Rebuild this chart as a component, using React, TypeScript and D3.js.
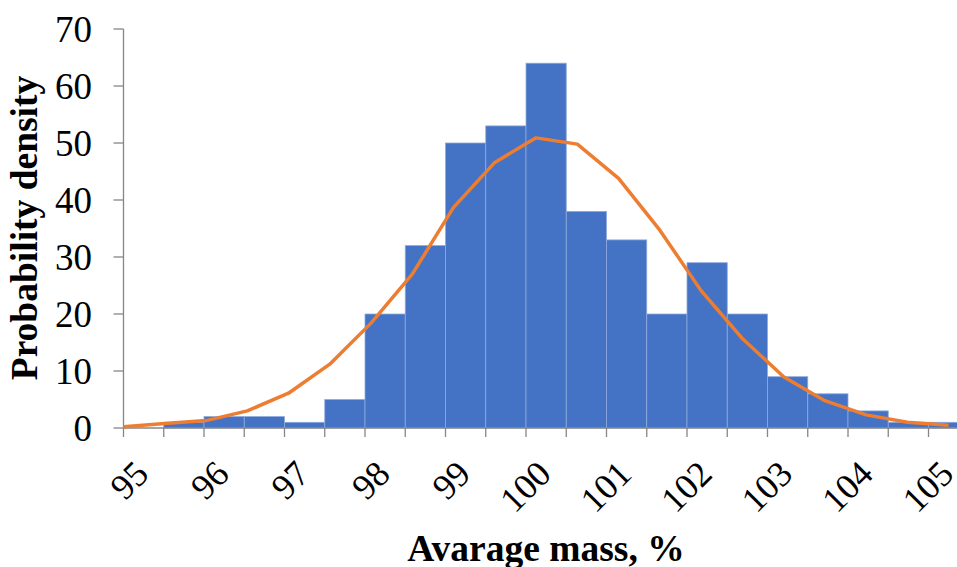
import { useEffect } from 'react';
import * as d3 from 'd3';

// histogram bins (left edge, width 0.5) and their heights
const binStarts = [95, 95.5, 96, 96.5, 97, 97.5, 98, 98.5, 99, 99.5, 100, 100.5, 101, 101.5, 102, 102.5, 103, 103.5, 104, 104.5, 105];
const binValues = [0, 1, 2, 2, 1, 5, 20, 32, 50, 53, 64, 38, 33, 20, 29, 20, 9, 6, 3, 1, 1];

// fitted density curve (21 evenly spaced points)
const curveValues = [0.2, 0.8, 1.3, 3.0, 6.1, 11.2, 18.4, 27, 38.7, 46.6, 50.9, 49.8, 43.8, 34.7, 24.1, 15.7, 9.0, 4.8, 2.3, 1.0, 0.5];

const xTicks = [95, 95.5, 96, 96.5, 97, 97.5, 98, 98.5, 99, 99.5, 100, 100.5, 101, 101.5, 102, 102.5, 103, 103.5, 104, 104.5, 105];
const xLabels = [95, 96, 97, 98, 99, 100, 101, 102, 103, 104, 105];
const yTicks = [0, 10, 20, 30, 40, 50, 60, 70];

const W = 957;
const H = 567;
const FONT = "'Liberation Serif', 'Times New Roman', serif";
const AXIS = '#868686';

export default function App() {
    useEffect(() => {
        document.body.style.margin = '0';
    }, []);

    const x = d3.scaleLinear().domain([95, 105]).range([123.5, 928.5]);
    const y = d3.scaleLinear().domain([0, 70]).range([428, 29]);
    const xc = d3.scalePoint<number>()
        .domain(curveValues.map((_, i) => i))
        .range([x(95), x(105.25)]);

    const line = d3.line<number>()
        .x((_, i) => xc(i) as number)
        .y(d => y(d));

    return (
        <svg width={W} height={H} style={{ display: 'block', background: '#fff' }}>
            {/* bars */}
            {binStarts.map((b, i) => binValues[i] > 0 && (
                <rect key={b}
                    x={x(b)} y={y(binValues[i])}
                    width={x(b + 0.5) - x(b)} height={y(0) - y(binValues[i])}
                    fill="#4472C4" stroke="#8eaadc" strokeWidth={0.8} />
            ))}

            {/* y axis */}
            <line x1={x(95)} x2={x(95)} y1={y(70)} y2={y(0)} stroke={AXIS} strokeWidth={1.3} />
            {yTicks.map(t => (
                <g key={t}>
                    <line x1={x(95) - 10} x2={x(95)} y1={y(t)} y2={y(t)} stroke={AXIS} strokeWidth={1.3} />
                    <text x={92} y={y(t)} dy="0.34em" textAnchor="end"
                        fontFamily={FONT} fontSize={37} fill="#000">{t}</text>
                </g>
            ))}

            {/* x axis */}
            <line x1={x(95)} x2={W} y1={y(0)} y2={y(0)} stroke={AXIS} strokeWidth={1.3} />
            {xTicks.map(t => (
                <line key={t} x1={x(t)} x2={x(t)} y1={y(0)} y2={y(0) + 9} stroke={AXIS} strokeWidth={1.3} />
            ))}
            {xLabels.map(t => (
                <text key={t} transform={`translate(${x(t) + 27},${476}) rotate(-45)`}
                    textAnchor="end" fontFamily={FONT} fontSize={36} fill="#000">{t}</text>
            ))}

            {/* fitted curve */}
            <path d={line(curveValues) || ''} fill="none" stroke="#ED7D31" strokeWidth={3.5} strokeLinejoin="round" />

            {/* titles */}
            <text transform={`translate(${37},${228}) rotate(-90)`} textAnchor="middle"
                fontFamily={FONT} fontSize={37.5} fontWeight="bold" fill="#000">Probability density</text>
            <text x={546} y={561} textAnchor="middle"
                fontFamily={FONT} fontSize={37.5} fontWeight="bold" fill="#000">Avarage mass, %</text>
        </svg>
    );
}
